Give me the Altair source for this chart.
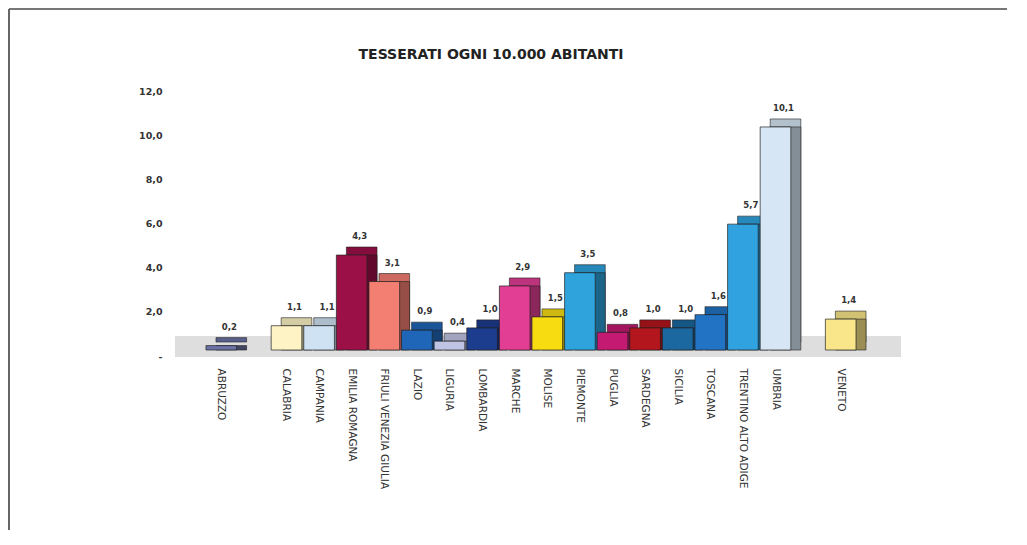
import altair as alt
import pandas as pd

# ---- data ----
title_text = "TESSERATI OGNI 10.000 ABITANTI"
regions = ["ABRUZZO", "CALABRIA", "CAMPANIA", "EMILIA ROMAGNA", "FRIULI VENEZIA GIULIA",
           "LAZIO", "LIGURIA", "LOMBARDIA", "MARCHE", "MOLISE", "PIEMONTE", "PUGLIA",
           "SARDEGNA", "SICILIA", "TOSCANA", "TRENTINO ALTO ADIGE", "UMBRIA", "VENETO"]
values = [0.2, 1.1, 1.1, 4.3, 3.1, 0.9, 0.4, 1.0, 2.9, 1.5, 3.5, 0.8, 1.0, 1.0, 1.6, 5.7, 10.1, 1.4]
front_colors = ["#6a72a6", "#fdf3c4", "#cfe2f3", "#9c1048", "#f37f72", "#1f66b8", "#c0c4e4",
                "#1c3c8e", "#e23f94", "#f7dc12", "#2ea3dc", "#c51a72", "#b3161c", "#1b679f",
                "#2273c4", "#2fa2df", "#d6e6f4", "#f9e68a"]
# empty slots on the axis (regions without a bar)
slot_order = ["ABRUZZO", "_gap1", "CALABRIA", "CAMPANIA", "EMILIA ROMAGNA", "FRIULI VENEZIA GIULIA",
              "LAZIO", "LIGURIA", "LOMBARDIA", "MARCHE", "MOLISE", "PIEMONTE", "PUGLIA",
              "SARDEGNA", "SICILIA", "TOSCANA", "TRENTINO ALTO ADIGE", "UMBRIA", "_gap2", "VENETO"]
y_ticks = [0, 2, 4, 6, 8, 10, 12]


def shade(hexcol, f):
    h = hexcol.lstrip("#")
    r, g, b = (int(h[i:i + 2], 16) for i in (0, 2, 4))
    return "#{:02x}{:02x}{:02x}".format(int(r * f), int(g * f), int(b * f))


df = pd.DataFrame({
    "region": regions,
    "value": values,
    "front": front_colors,
    "side": [shade(c, 0.62) for c in front_colors],
    "top": [shade(c, 0.84) for c in front_colors],
})

W, H = 712, 265
PL, PT = 167, 77
DX, DY = 10, -8
FONT = "DejaVu Sans"

x_enc = alt.X(
    "region:N",
    sort=slot_order,
    scale=alt.Scale(domain=slot_order, paddingInner=0.06, paddingOuter=0.95),
    axis=alt.Axis(
        title=None, labelAngle=90, domain=False, ticks=False, labelPadding=18,
        labelFont=FONT, labelFontSize=10.5, labelColor="#333",
        labelExpr="indexof(datum.value, '_gap') == 0 ? '' : datum.value",
    ),
)
y_enc = alt.Y(
    "value:Q",
    scale=alt.Scale(domain=[0, 12], nice=False, zero=True),
    axis=alt.Axis(
        title=None, values=y_ticks, grid=False, domain=False, ticks=False,
        labelPadding=13, labelOffset=6, labelFont=FONT, labelFontSize=9.5,
        labelFontWeight="bold", labelColor="#333",
        labelExpr="datum.value == 0 ? '-' : replace(format(datum.value, '.1f'), '.', ',')",
    ),
)

base = alt.Chart(df)
one = pd.DataFrame({"t": [title_text]})

frame_top = alt.Chart(one).mark_rule(color="#777", strokeWidth=2).encode(
    x=alt.value(-PL + 1), x2=alt.value(1027), y=alt.value(-PT + 1)
)
frame_left = alt.Chart(one).mark_rule(color="#666", strokeWidth=2).encode(
    x=alt.value(-PL + 1), y=alt.value(-PT + 1), y2=alt.value(545)
)

title = alt.Chart(one).mark_text(
    font=FONT, fontSize=14, fontWeight="bold", color="#222", align="center", baseline="middle"
).encode(x=alt.value(316), y=alt.value(-30), text="t:N")

floor = alt.Chart(one).mark_rect(color="#dedede").encode(
    x=alt.value(0), x2=alt.value(W + 14), y=alt.value(H + 7), y2=alt.value(H - 14)
)

top_face = base.mark_bar(
    xOffset=DX, x2Offset=DX, yOffset=DY, y2Offset=DY, stroke="#222", strokeWidth=0.6
).encode(x=x_enc, y=y_enc, color=alt.Color("top:N", scale=None))

side_face = base.mark_bar(
    xOffset=DX, x2Offset=DX, stroke="#222", strokeWidth=0.6
).encode(x=x_enc, y=y_enc, color=alt.Color("side:N", scale=None))

front_face = base.mark_bar(stroke="#222", strokeWidth=0.7).encode(
    x=x_enc, y=y_enc, color=alt.Color("front:N", scale=None)
)

labels = base.transform_calculate(
    lab="replace(format(datum.value, '.1f'), '.', ',')"
).mark_text(dx=8, dy=-19, font=FONT, fontSize=8.5, fontWeight="bold", color="#333").encode(
    x=x_enc, y=y_enc, text="lab:N"
)

chart = alt.layer(
    frame_top, frame_left, title, floor, top_face, side_face, front_face, labels
).properties(
    width=W,
    height=H,
    autosize=alt.AutoSizeParams(type="none"),
    padding={"left": PL, "top": PT, "right": 120, "bottom": 180},
).configure_view(stroke=None)

chart.save("out.html", embed_options={"renderer": "svg", "actions": False})
